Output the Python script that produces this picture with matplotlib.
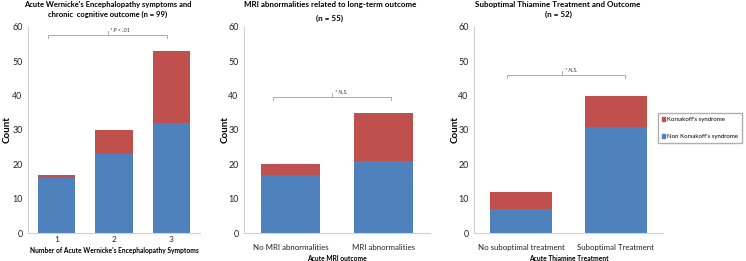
import matplotlib
matplotlib.use("Agg")
import matplotlib.pyplot as plt
from matplotlib.patches import Patch

plt.rcParams['font.family'] = ['Lato', 'DejaVu Sans']

# Data
cats1 = ["1", "2", "3"]
non_k1 = [16, 23, 32]
kors1 = [1, 7, 21]

cats2 = ["No MRI abnormalities", "MRI abnormalities"]
non_k2 = [17, 21]
kors2 = [3, 14]

cats3 = ["No suboptimal treatment", "Suboptimal Treatment"]
non_k3 = [7, 31]
kors3 = [5, 9]

title_l1 = ["Acute Wernicke's Encephalopathy symptoms and",
            "MRI abnormalities related to long-term outcome",
            "Suboptimal Thiamine Treatment and Outcome"]
title_l2 = ["chronic  cognitive outcome (n = 99)", "(n = 55)", "(n = 52)"]
xlabels = ["Number of Acute Wernicke's Encephalopathy Symptoms",
           "Acute MRI outcome", "Acute Thiamine Treatment"]
sig_texts = ["* P < .01", "* N.S.", "* N.S."]
sig_levels = [57.7, 39.6, 46.0]
sig_spans = [(-0.15, 1.93), (-0.19, 1.08), (-0.15, 1.1)]
sig_mid = [0.9, 0.45, 0.43]

BLUE = "#4F81BD"
RED = "#C0504D"
GRID = "#d0d0d0"

W, H = 746, 261
fig = plt.figure(figsize=(W / 100, H / 100), dpi=100)
positions = [(0.0375, 0.107, 0.2305, 0.79),
             (0.327, 0.107, 0.2494, 0.79),
             (0.6354, 0.107, 0.2533, 0.79)]
data = [(cats1, non_k1, kors1), (cats2, non_k2, kors2), (cats3, non_k3, kors3)]
widths = [0.65, 0.63, 0.66]
title_x = [108, 330, 558]
title_y2 = [14.5, 18.5, 14.5]
ylab_px = [7, 225, 455]
xlab_px = [250, 258, 258]
title_fs = [5.5, 5.8, 5.8]

for i, (pos, (cats, nk, k)) in enumerate(zip(positions, data)):
    ax = fig.add_axes(pos)
    x = range(len(cats))
    ax.bar(x, nk, width=widths[i], color=BLUE, label="Non Korsakoff's syndrome")
    ax.bar(x, k, bottom=nk, width=widths[i], color=RED, label="Korsakoff's syndrome")
    ax.set_xlim(-0.5, len(cats) - 0.5)
    ax.set_ylim(0, 60)
    ax.set_yticks(range(0, 61, 10))
    ax.set_xticks(list(x))
    ax.tick_params(axis='both', length=0, labelsize=6.4, colors="#222222")
    ax.set_xticklabels(cats, fontsize=6.0 if i == 0 else 5.7)
    ax.tick_params(axis='y', pad=4)
    ax.tick_params(axis='x', pad=2 if i == 0 else 8)
    for s in ["top", "right"]:
        ax.spines[s].set_visible(False)
    for s in ["left", "bottom"]:
        ax.spines[s].set_color(GRID)
        ax.spines[s].set_linewidth(0.8)
    ax.set_ylabel("Count", fontsize=7, fontweight="bold")
    axw_px = pos[2] * W
    axh_px = pos[3] * H
    ax.yaxis.set_label_coords((ylab_px[i] - pos[0] * W) / axw_px, 0.5)
    ax.yaxis.label.set_va("center")
    ax.set_xlabel(xlabels[i], fontsize=4.8, fontweight="bold")
    ax.xaxis.set_label_coords(0.5, -(xlab_px[i] - 233) / axh_px)
    ax.xaxis.label.set_va("center")
    fig.text(title_x[i] / W, 1 - 4.5 / H, title_l1[i], fontsize=title_fs[i],
             fontweight="bold", ha="center", va="center")
    fig.text(title_x[i] / W, 1 - title_y2[i] / H, title_l2[i], fontsize=title_fs[i],
             fontweight="bold", ha="center", va="center")
    # significance bracket
    x0, x1 = sig_spans[i]
    yl = sig_levels[i]
    ax.plot([x0, x0, x1, x1], [yl - 0.9, yl, yl, yl - 0.9], color="#a0a0a0", lw=0.6)
    ax.plot([sig_mid[i], sig_mid[i]], [yl, yl + 1.2], color="#a0a0a0", lw=0.6)
    ax.text(sig_mid[i] + 0.03, yl + 0.6, sig_texts[i], fontsize=4.0, style="italic",
            ha="left", va="bottom", color="#333333")

handles = [Patch(color=RED, label="Korsakoff's syndrome"),
           Patch(color=BLUE, label="Non Korsakoff's syndrome")]
fig.legend(handles=handles, loc="upper left", bbox_to_anchor=(0.878, 0.5785),
           fontsize=4.4, frameon=True, fancybox=False, edgecolor="#b0b0b0",
           handlelength=0.6, handleheight=0.6, handletextpad=0.3,
           labelspacing=2.0, borderpad=0.6, framealpha=1)

fig.savefig("out.png", dpi=100)
